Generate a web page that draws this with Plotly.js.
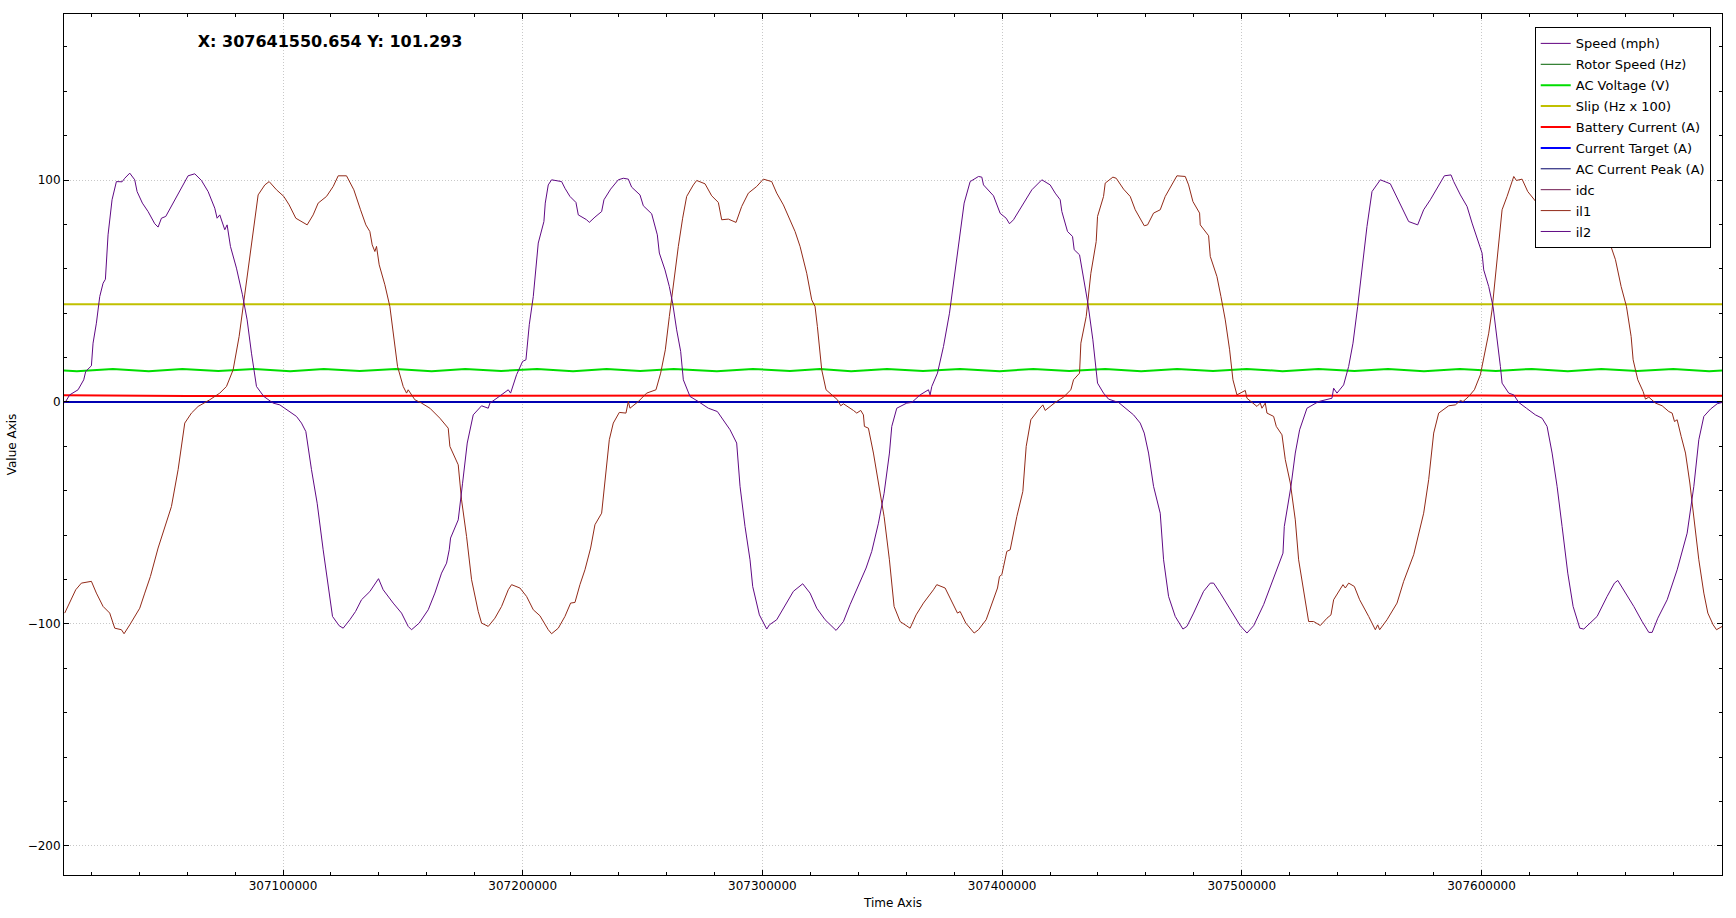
<!DOCTYPE html>
<html>
<head>
<meta charset="utf-8">
<script src="https://cdn.plot.ly/plotly-3.0.1.min.js"></script>
<style>html,body{margin:0;padding:0;background:#fff;}#chart{width:1736px;height:918px;}</style>
</head>
<body>
<div id="chart"></div>
<script>
// ---------- data ----------
const seriesNames = ['Speed (mph)','Rotor Speed (Hz)','AC Voltage (V)','Slip (Hz x 100)','Battery Current (A)','Current Target (A)','AC Current Peak (A)','idc','il1','il2'];
const cursorText = 'X: 307641550.654 Y: 101.293';
const xAxisTitle = 'Time Axis';
const yAxisTitle = 'Value Axis';

const flatTime = [307008630, 307700340];
const speedVals = [0, 0];
const rotorVals = [0, 0];
const slipVals = [44.0, 44.0];
const targetVals = [0, 0];
const acPeakVals = [0, 0];
// idc is listed in the legend but no trace of it is visible in the plot
const idcTime = [307008630];
const idcVals = [0];

const batTime = [307008630, 307060000, 307120000, 307180000, 307240000, 307300000, 307360000, 307420000, 307480000, 307540000, 307600000, 307660000, 307700340];
const batVals = [3.0, 2.7, 2.8, 2.9, 2.8, 2.9, 2.8, 2.9, 2.9, 2.8, 2.9, 2.8, 2.8];

const acvTime = [307008630, 307014000, 307029000, 307044000, 307058000, 307073000, 307088000, 307103000, 307117000, 307132000,
                 307147000, 307162000, 307176000, 307191000, 307206000, 307221000, 307235000, 307249000, 307263000, 307281000,
                 307296000, 307311500, 307324000, 307337000, 307352000, 307367000, 307382500, 307399000, 307413000, 307428000,
                 307443000, 307458000, 307473000, 307488000, 307502000, 307517000, 307532000, 307547000, 307561000, 307576000,
                 307591000, 307606000, 307621000, 307636000, 307650000, 307665000, 307680000, 307695000, 307700340];
const acvVals = [14.2, 13.9, 14.9, 13.9, 14.9, 14.0, 14.9, 13.9, 14.9, 14.0,
                 14.9, 13.9, 14.9, 14.0, 14.9, 13.9, 14.9, 14.0, 14.9, 13.9,
                 14.9, 14.0, 14.9, 13.9, 14.9, 14.0, 14.9, 13.9, 14.9, 14.0,
                 14.9, 13.9, 14.9, 14.0, 14.9, 13.9, 14.9, 14.0, 14.9, 13.9,
                 14.9, 14.0, 14.9, 13.9, 14.9, 14.0, 14.9, 13.9, 14.2];

const il1Time = [
 307008930,307011010,307013520,307015880,307020060,307022140,307024930,307027710,307029800,307032580,
 307033690,307036060,307040230,307042320,307044680,307047880,307051080,307053450,307056230,307059010,
 307061800,307064580,307069450,307073620,307076410,307079190,307081690,307084750,307086840,307089620,
 307092410,307094220,307097280,307100340,307102560,307105340,307110080,307112580,307114670,307118140,
 307120930,307123020,307126490,307129550,307132340,307134560,307136230,307137210,307138320,307139010,
 307140130,307142490,307144580,307146670,307147780,307150140,307151540,307152230,307155010,307157800,
 307161280,307165450,307168930,307169620,307173100,307174490,307176580,307178670,307181450,307182840,
 307185620,307188400,307191190,307193970,307195360,307198840,307201620,307204410,307207190,307210660,
 307212050,307214840,307217620,307219990,307221800,307223880,307225970,307228340,307230140,307232930,
 307234320,307236130,307237790,307240300,307243080,307244060,307244750,307248230,307251710,307255600,
 307257550,307259500,307261170,307262840,307264930,307266730,307268400,307271190,307272580,307276060,
 307278840,307281620,307283020,307285800,307289000,307291360,307294140,307297620,307299010,307300400,
 307303880,307305970,307308750,307311260,307313630,307315710,307318490,307320580,307321970,307322940,
 307324750,307326560,307328920,307331300,307332680,307333800,307337970,307339360,307341030,307342140,
 307342560,307344230,307346320,307348410,307350770,307352990,307354940,307357450,307361620,307364130,
 307367190,307371360,307372750,307376230,307379010,307381380,307382500,307384860,307388340,307390150,
 307393350,307395710,307398080,307398910,307399890,307401970,307403370,307406150,307408650,307410050,
 307411990,307415190,307417000,307417980,307422150,307425630,307428690,307429800,307432310,307432860,
 307435090,307437030,307439260,307439820,307442320,307443020,307446220,307447610,307450670,307453450,
 307455540,307459300,307460690,307463190,307465970,307468060,307470840,307472930,307476410,307477800,
 307479610,307482390,307482670,307486150,307486840,307489630,307491300,307493110,307494920,307496310,
 307497980,307501460,307502150,307506320,307507710,307508410,307509800,307510500,307513280,307514390,
 307516760,307518150,307520240,307522320,307523710,307525800,307527890,307529980,307532760,307535540,
 307537210,307538320,307542220,307543190,307544580,307546950,307549170,307552930,307555710,307556690,
 307557520,307560580,307564760,307567540,307571710,307575880,307577970,307580060,307582150,307586320,
 307589100,307591190,307592310,307594670,307597040,307599540,307601210,307603020,307604410,307605800,
 307607610,307608590,307610670,307612760,307613460,307614570,307616930,307619300,307623190,307627090,
 307632930,307641550,307646850,307653530,307655890,307658260,307660490,307662430,307663270,307665210,
 307667440,307668410,307669800,307672590,307675370,307678150,307679540,307680520,307681630,307683300,
 307685110,307686920,307688590,307690670,307692760,307694430,307696650,307698050,307700410];
const il1Vals = [
 -95.1,-90.6,-84.6,-81.6,-80.8,-86.1,-92.1,-95.1,-101.9,-102.6,
 -104.4,-100.4,-92.9,-86.1,-78.6,-65.8,-55.3,-47.1,-30.5,-9.5,
 -5.0,-2.0,1.0,4.0,7.0,14.5,29.5,53.5,70.1,93.3,
 97.8,99.3,95.6,92.6,88.8,82.8,79.8,84.3,89.6,92.6,
 97.1,101.9,101.9,95.6,86.6,79.8,76.8,70.8,67.8,70.1,
 61.8,52.8,43.0,26.5,16.0,7.0,4.0,5.5,1.0,-0.5,
 -2.8,-7.3,-11.8,-20.0,-28.3,-44.1,-60.6,-80.1,-94.4,-99.6,
 -101.1,-97.4,-92.1,-84.6,-82.3,-83.8,-87.6,-93.6,-96.3,-102.6,
 -104.4,-101.9,-96.6,-90.6,-90.3,-82.3,-75.6,-65.8,-55.3,-50.1,
 -35.0,-17.0,-9.5,-4.7,-5.0,0.2,-2.8,0.2,4.0,5.5,
 13.0,23.5,38.5,53.5,70.1,82.8,92.6,97.8,99.8,98.3,
 92.9,89.9,82.1,82.4,80.9,88.1,94.1,97.1,98.6,100.4,
 99.3,94.1,88.8,82.8,76.8,70.1,58.0,46.0,43.0,34.0,
 14.5,5.5,3.2,1.0,-1.7,-0.8,-3.8,-5.0,-3.8,-5.8,
 -11.0,-11.8,-23.0,-36.5,-51.6,-71.1,-92.1,-98.9,-101.9,-95.9,
 -90.6,-84.6,-82.3,-83.8,-89.9,-95.1,-94.4,-99.6,-104.1,-102.6,
 -98.1,-90.6,-83.8,-78.6,-77.8,-67.3,-66.6,-51.6,-40.3,-20.0,
 -8.0,-3.5,-1.3,-3.8,-0.2,2.2,5.5,10.0,13.0,26.5,
 38.5,58.0,72.3,83.6,92.6,98.6,101.3,100.8,95.9,92.6,
 86.6,79.4,79.8,85.1,86.6,92.6,97.8,101.9,101.6,97.8,
 90.3,85.1,79.8,74.9,65.6,56.5,47.5,37.0,23.5,10.0,
 3.2,5.2,1.7,-2.0,-0.5,-2.8,-0.5,-5.0,-6.5,-11.0,
 -14.8,-26.0,-36.5,-53.1,-71.1,-86.1,-98.9,-98.9,-100.7,-97.4,
 -95.9,-89.1,-82.3,-83.8,-81.6,-83.1,-89.1,-96.6,-102.6,-100.4,
 -102.6,-98.1,-90.6,-80.8,-68.8,-50.1,-35.0,-14.0,-5.0,-1.7,
 -1.3,0.7,0.2,2.5,5.5,12.3,22.0,31.0,41.5,56.5,
 74.6,86.6,92.6,100.1,101.6,99.8,100.4,94.8,89.6,80.6,
 89.6,101.3,91.1,71.6,64.1,52.0,43.0,29.5,19.0,10.0,
 4.7,1.3,2.2,-0.5,-1.7,-4.3,-5.0,-8.8,-8.0,-15.5,
 -23.0,-36.5,-53.1,-71.1,-86.1,-95.1,-100.4,-102.6,-101.1];

const il2Time = [
 307008930,307011010,307014490,307016860,307017690,307020060,307020750,307022140,307023540,307024930,
 307025900,307027010,307028680,307030490,307032860,307033970,307036060,307038140,307039120,307041340,
 307043710,307046490,307047880,307049280,307051080,307054840,307057620,307060400,307063190,307065970,
 307068750,307071540,307072510,307073620,307075710,307076680,307078070,307080580,307083080,307085030,
 307086840,307088930,307091990,307095880,307098670,307102840,307105620,307107710,307109520,307111880,
 307114250,307116750,307119260,307120650,307123430,307125100,307127880,307130250,307132750,307136230,
 307139850,307141790,307145970,307149450,307152230,307153620,307156820,307160580,307163360,307166140,
 307168230,307169340,307169900,307173100,307174910,307176860,307179360,307182840,307185620,307186320,
 307190220,307193970,307194950,307197450,307199960,307201350,307202740,307204410,307206490,307207460,
 307208850,307209410,307210660,307212050,307214140,307216230,307217620,307219710,307222210,307223190,
 307226670,307227780,307230140,307232930,307233900,307236680,307239880,307241970,307244060,307245450,
 307248930,307250320,307253800,307255190,307256160,307257000,307259360,307261170,307262560,307264230,
 307265900,307267010,307269800,307273270,307277450,307281210,307283710,307286490,307289270,307290670,
 307292750,307294840,307295950,307298740,307301800,307302910,307305970,307308750,307312930,307316820,
 307319880,307322670,307326150,307330740,307333800,307336580,307340750,307343260,307345620,307348410,
 307350770,307353000,307353970,307356060,307360230,307362320,307365800,307369280,307369970,307370670,
 307373040,307375540,307378050,307380410,307382500,307384170,307386670,307390150,307391540,307392240,
 307396410,307399190,307401700,307403090,307404760,307408240,307412410,307416580,307417980,307420060,
 307422150,307424240,307424930,307427300,307429380,307430080,307432310,307433970,307435780,307437870,
 307439260,307439820,307442320,307444410,307448580,307451360,307454840,307457620,307459300,307461100,
 307463190,307465970,307467370,307469450,307472230,307475440,307477110,307479890,307484060,307486840,
 307488240,307491020,307495190,307499370,307502150,307504930,307509100,307513280,307517180,307517730,
 307520510,307522320,307524130,307527190,307532060,307537620,307538320,307539710,307542490,307544580,
 307546390,307548340,307550140,307552230,307554320,307557800,307561970,307565450,307569620,307573380,
 307575880,307578660,307582840,307584510,307587290,307588410,307591190,307593980,307596070,307598150,
 307600240,307600930,307603020,307604830,307606500,307607890,307608590,307611370,307613460,307615540,
 307618740,307622500,307625280,307627370,307629460,307631540,307633630,307636000,307638220,307641010,
 307642670,307645460,307648240,307652410,307655470,307656860,307659370,307663540,307667020,307669800,
 307671200,307673560,307677460,307681630,307685800,307688590,307690670,307692760,307695540,307698330,
 307700410];
const il2Vals = [
 -0.5,3.2,5.5,10.0,13.8,16.3,26.5,35.5,47.5,53.5,
 55.3,75.3,91.1,99.3,99.2,100.8,103.1,100.1,94.8,89.6,
 85.8,80.3,78.8,82.8,83.6,91.1,96.3,101.9,102.8,99.8,
 94.8,87.3,82.8,84.3,77.6,79.8,70.1,60.3,48.3,37.0,
 22.0,7.0,2.5,-0.5,-1.3,-4.6,-6.5,-9.5,-13.3,-30.5,
 -45.6,-66.6,-87.6,-96.6,-100.8,-101.9,-98.1,-94.4,-89.1,-85.4,
 -79.6,-84.6,-90.6,-95.1,-101.1,-102.6,-99.6,-93.6,-86.1,-77.1,
 -72.6,-66.6,-61.3,-53.1,-36.6,-18.5,-5.8,-1.7,-2.8,-0.5,
 2.5,5.5,4.0,12.3,18.3,19.0,34.8,47.5,71.6,76.1,
 81.3,89.6,97.8,100.1,99.8,99.3,96.3,92.6,89.9,84.3,
 82.1,80.9,83.3,85.8,91.1,95.9,100.1,100.8,100.4,96.8,
 93.3,88.4,84.8,79.8,75.3,67.1,59.5,52.0,44.5,32.5,
 22.8,10.0,2.5,0.2,-2.8,-4.3,-8.0,-12.5,-18.5,-38.0,
 -56.1,-71.1,-83.1,-95.9,-102.3,-100.4,-98.1,-92.9,-85.3,-81.9,
 -86.1,-92.9,-98.1,-102.9,-98.9,-91.3,-80.8,-74.8,-67.3,-54.6,
 -41.1,-23.0,-11.0,-2.8,-0.5,-0.2,3.2,5.5,3.2,7.0,
 13.0,25.0,40.0,59.5,77.6,89.6,99.3,101.6,101.3,97.8,
 92.9,85.0,82.8,80.3,82.1,88.1,95.6,100.1,99.3,97.8,
 94.1,91.1,85.8,76.8,74.6,68.6,66.3,56.5,44.5,28.0,
 16.0,8.5,4.0,1.3,-0.2,-2.8,-5.8,-9.5,-14.0,-23.0,
 -38.0,-50.1,-71.1,-87.6,-96.6,-102.3,-101.1,-95.1,-85.3,-81.6,
 -81.6,-86.1,-93.6,-100.8,-104.1,-100.8,-91.3,-79.3,-68.1,-56.1,
 -38.0,-23.0,-12.5,-2.8,0.2,1.7,6.2,4.0,7.7,16.0,
 26.5,43.0,61.1,79.1,94.8,100.1,98.3,90.3,81.3,79.8,
 86.6,91.1,98.6,101.9,102.3,99.3,93.3,88.1,80.6,73.8,
 67.1,59.5,52.0,43.0,29.5,16.0,8.5,4.0,3.2,-0.2,
 -2.8,-5.8,-7.3,-11.0,-23.0,-38.0,-56.1,-77.1,-92.1,-101.9,
 -102.3,-99.6,-96.6,-87.6,-81.6,-80.4,-84.6,-92.1,-98.9,-103.8,
 -103.8,-97.4,-89.1,-75.6,-59.1,-38.0,-17.0,-6.5,-3.2,-0.8,
 -0.2];

// ---------- styles ----------
const colors = ['#600080','#006000','#00dd00','#c0c000','#ff0000','#0000ff','#000066','#701a50','#922a18','#600a84'];
const widths = [1,1,2,2,2,2,1,1,1,1];

const xs = [flatTime, flatTime, acvTime, flatTime, batTime, flatTime, flatTime, idcTime, il1Time, il2Time];
const ys = [speedVals, rotorVals, acvVals, slipVals, batVals, targetVals, acPeakVals, idcVals, il1Vals, il2Vals];

const traces = seriesNames.map((n, i) => ({
  type: 'scatter', mode: 'lines', name: n,
  x: xs[i], y: ys[i],
  legendgroup: 'g' + i,
  line: {color: colors[i], width: widths[i]},
  hoverinfo: 'skip'
}));

const axisCommon = {
  showline: true, linecolor: 'black', linewidth: 1, mirror: 'allticks',
  ticks: 'inside', ticklen: 5, tickwidth: 1, tickcolor: 'black',
  showgrid: true, gridcolor: '#c8c8c8', gridwidth: 1, griddash: '1px,2px',
  zeroline: false, automargin: false,
  tickfont: {family: 'DejaVu Sans', size: 12, color: 'black'}
};

const layout = {
  width: 1736, height: 918,
  margin: {l: 64.3, r: 14.3, t: 14.3, b: 43, pad: 0},
  paper_bgcolor: 'white', plot_bgcolor: 'white',
  font: {family: 'DejaVu Sans', size: 12, color: 'black'},
  title: {
    text: '<b>' + cursorText + '</b>',
    xref: 'container', yref: 'container',
    x: 197.7 / 1736, xanchor: 'left',
    y: 1 - 41 / 918, yanchor: 'middle',
    font: {family: 'DejaVu Sans', size: 16, color: 'black'}
  },
  showlegend: true,
  legend: {
    x: 0.9932, xanchor: 'right', y: 0.9844, yanchor: 'top',
    bgcolor: 'white', bordercolor: 'black', borderwidth: 1,
    font: {family: 'DejaVu Sans', size: 13, color: 'black'},
    traceorder: 'grouped', tracegroupgap: 1
  },
  xaxis: Object.assign({}, axisCommon, {
    range: [307008630, 307700340],
    tickmode: 'linear', tick0: 307000000, dtick: 100000, tickformat: 'd',
    minor: {ticks: 'inside', ticklen: 3, tickcolor: 'black', tick0: 307000000, dtick: 20000, showgrid: false},
    title: {text: xAxisTitle, font: {family: 'DejaVu Sans', size: 12, color: 'black'}, standoff: 6}
  }),
  yaxis: Object.assign({}, axisCommon, {
    range: [-213.1, 174.8],
    tickmode: 'linear', tick0: 0, dtick: 100,
    minor: {ticks: 'inside', ticklen: 3, tickcolor: 'black', tick0: 0, dtick: 20, showgrid: false},
    title: {text: yAxisTitle, font: {family: 'DejaVu Sans', size: 12, color: 'black'}, standoff: 8}
  })
};

Plotly.newPlot('chart', traces, layout, {displayModeBar: false, staticPlot: true});
</script>
</body>
</html>
